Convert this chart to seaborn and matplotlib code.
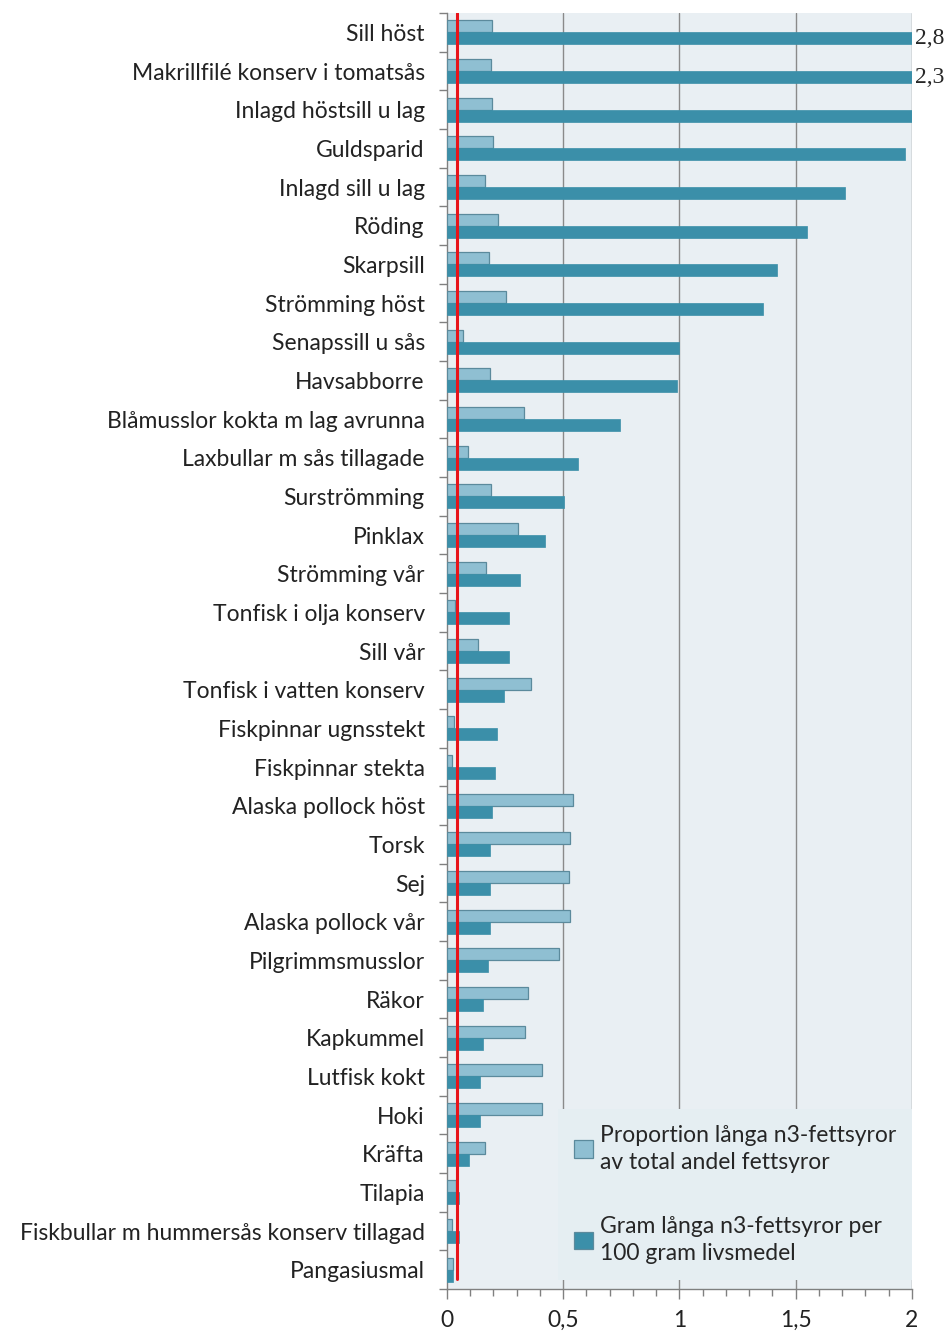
import pandas as pd
import numpy as np
import matplotlib
matplotlib.use("Agg")
import matplotlib.pyplot as plt
import seaborn as sns
from matplotlib.ticker import MultipleLocator, FixedLocator

# Livsmedel, från toppen och nedåt
categories = [
    "Sill höst", "Makrillfilé konserv i tomatsås", "Inlagd höstsill u lag", "Guldsparid",
    "Inlagd sill u lag", "Röding", "Skarpsill", "Strömming höst", "Senapssill u sås",
    "Havsabborre", "Blåmusslor kokta m lag avrunna", "Laxbullar m sås tillagade",
    "Surströmming", "Pinklax", "Strömming vår", "Tonfisk i olja konserv", "Sill vår",
    "Tonfisk i vatten konserv", "Fiskpinnar ugnsstekt", "Fiskpinnar stekta",
    "Alaska pollock höst", "Torsk", "Sej", "Alaska pollock vår", "Pilgrimmsmusslor",
    "Räkor", "Kapkummel", "Lutfisk kokt", "Hoki", "Kräfta", "Tilapia",
    "Fiskbullar m hummersås konserv tillagad", "Pangasiusmal",
]

# Andel långa n3-fettsyror av total andel fettsyror
proportion = [
    0.195, 0.189, 0.195, 0.199, 0.162, 0.221, 0.179, 0.252, 0.070, 0.184, 0.330,
    0.092, 0.189, 0.304, 0.168, 0.033, 0.132, 0.360, 0.029, 0.023, 0.540, 0.531,
    0.526, 0.531, 0.483, 0.350, 0.334, 0.407, 0.407, 0.163, 0.039, 0.020, 0.027,
]

# Gram långa n3-fettsyror per 100 g livsmedel
gram = [
    2.8, 2.3, 2.0, 1.97, 1.71, 1.55, 1.42, 1.36, 1.0, 0.99, 0.744,
    0.562, 0.505, 0.423, 0.314, 0.267, 0.267, 0.247, 0.215, 0.205, 0.195, 0.185,
    0.185, 0.185, 0.175, 0.153, 0.153, 0.143, 0.143, 0.096, 0.053, 0.053, 0.024,
]

series_names = [
    "Proportion långa n3-fettsyror\nav total andel fettsyror",
    "Gram långa n3-fettsyror per\n100 gram livsmedel",
]
off_scale_labels = {"Sill höst": "2,8", "Makrillfilé konserv i tomatsås": "2,3"}
ref_value = 0.045

df = pd.DataFrame({
    "livsmedel": categories * 2,
    "serie": [series_names[0]] * len(categories) + [series_names[1]] * len(categories),
    "varde": proportion + gram,
})

sns.set_style("white")
plt.rcParams["font.family"] = ["Lato", "DejaVu Sans"]

fig = plt.figure(figsize=(9.48, 13.34), dpi=100)
ax = fig.add_axes([0.4715, 0.0337, 0.4905, 0.9565])

light, dark = "#8fbfd2", "#3b8fa9"
palette = {series_names[0]: light, series_names[1]: dark}
sns.barplot(data=df, y="livsmedel", x="varde", hue="serie", order=categories,
            hue_order=series_names, palette=palette, orient="h", width=0.62,
            saturation=1, ax=ax, zorder=3)

for bar in ax.patches:
    if np.allclose(bar.get_facecolor()[:3], matplotlib.colors.to_rgb(light)):
        bar.set_edgecolor("#5b8a9c")
        bar.set_linewidth(0.9)
    else:
        bar.set_edgecolor(dark)
        bar.set_linewidth(0.5)

ax.set_facecolor("#e9eff3")
ax.set_xlim(0, 2)
ax.set_ylim(len(categories) - 0.5, -0.5)
ax.set_xlabel("")
ax.set_ylabel("")

for x in [0.5, 1, 1.5, 2]:
    ax.axvline(x, color="#8a8a8a", lw=1.0, zorder=1)

ax.axvline(ref_value, ymin=0.008, ymax=1, color="#e8141a", lw=2.2, zorder=5)

# x-axel
ax.set_xticks([0, 0.5, 1, 1.5, 2])
ax.xaxis.set_minor_locator(MultipleLocator(0.1))
ax.set_xticklabels(["0", "0,5", "1", "1,5", "2"], fontsize=16.5, color="#222222")
ax.tick_params(axis="x", which="both", direction="out", bottom=True, color="#808080",
               width=1, pad=8)
ax.tick_params(axis="x", which="major", length=7)
ax.tick_params(axis="x", which="minor", length=5)

# y-axel: streck mellan kategorierna
ax.tick_params(axis="y", which="major", length=0, labelsize=16.5, labelcolor="#222222", pad=16)
ax.yaxis.set_minor_locator(FixedLocator(np.arange(-0.5, len(categories), 1.0)))
ax.tick_params(axis="y", which="minor", left=True, length=6, direction="out",
               color="#808080", width=1)

for side in ["top", "right"]:
    ax.spines[side].set_visible(False)
for side in ["left", "bottom"]:
    ax.spines[side].set_color("#808080")
    ax.spines[side].set_linewidth(1)

for name, txt in off_scale_labels.items():
    ax.text(2.015, categories.index(name) + 0.16, txt, fontsize=17,
            family="Liberation Serif", va="center", ha="left", clip_on=False)

handles, labels = ax.get_legend_handles_labels()
leg = ax.legend(handles, labels, loc="lower right", bbox_to_anchor=(1.0, 0.007),
                fontsize=16.5, frameon=True, facecolor="#e5eef2", edgecolor="none",
                framealpha=1, fancybox=False, handlelength=0.8, handleheight=0.8,
                handletextpad=0.3, labelspacing=1.9, borderpad=0.7, borderaxespad=0.0)
for t in leg.get_texts():
    t.set_linespacing(1.35)
for h in leg.legend_handles:
    h.set_edgecolor("#5b8a9c")
    h.set_linewidth(0.9)
leg.set_zorder(6)

fig.savefig("out.png", dpi=100, facecolor="white")
